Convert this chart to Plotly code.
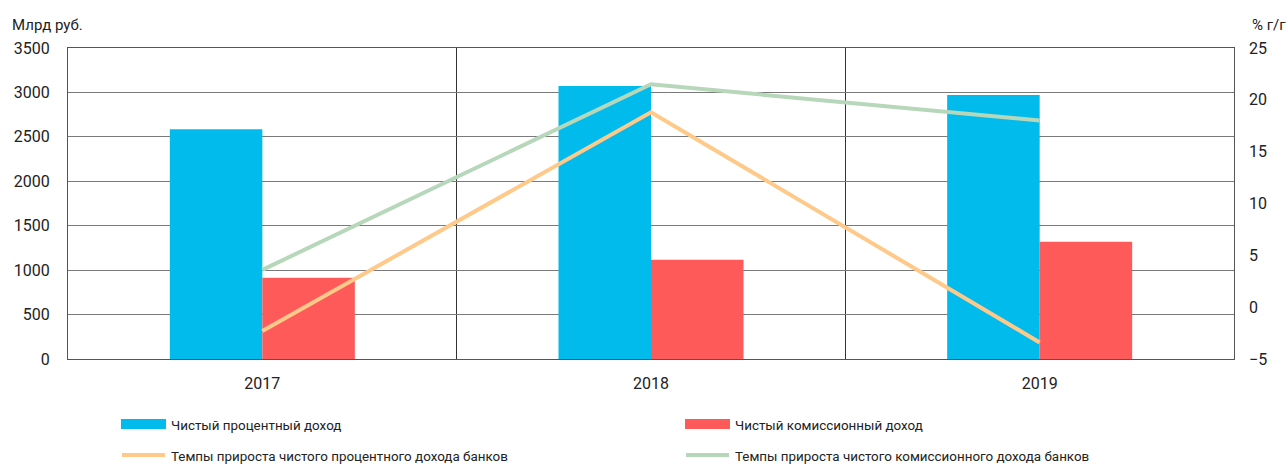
import plotly.graph_objects as go

years = ["2017", "2018", "2019"]
net_interest = [2585, 3072, 2971]
net_commission = [915, 1117, 1320]
interest_growth = [-2.3, 18.8, -3.4]
commission_growth = [3.6, 21.5, 18.0]

name_interest = "Чистый процентный доход"
name_commission = "Чистый комиссионный доход"
name_interest_growth = "Темпы прироста чистого процентного дохода банков"
name_commission_growth = "Темпы прироста чистого комиссионного дохода банков"

c_blue = "#00BBEC"
c_red = "#FF5A5A"
c_orange = "#FFC98A"
c_green = "#B7D7BA"
font_family = "Roboto"
txt = "#222222"
fs_tick = 16
fs_legend = 13.4
fs_title = 15

W, H = 1288, 466
L, R, T, B = 68, 54, 48, 107
PW, PH = W - L - R, H - T - B

fig = go.Figure()
fig.add_bar(x=years, y=net_interest, name=name_interest, marker_color=c_blue,
            marker_line_width=0, showlegend=False)
fig.add_bar(x=years, y=net_commission, name=name_commission, marker_color=c_red,
            marker_line_width=0, showlegend=False)
fig.add_scatter(x=years, y=interest_growth, name=name_interest_growth, yaxis="y2",
                mode="lines", line=dict(color=c_orange, width=4), showlegend=False)
fig.add_scatter(x=years, y=commission_growth, name=name_commission_growth, yaxis="y2",
                mode="lines", line=dict(color=c_green, width=4), showlegend=False)

# legend drawn as shapes + text, two columns
def px_x(px):
    return (px - L) / PW

def px_y(py):
    return (H - B - py) / PH

shapes = []
annotations = []
legend_items = [
    (name_interest, c_blue, "bar", 121, 424),
    (name_commission, c_red, "bar", 685, 424),
    (name_interest_growth, c_orange, "line", 121, 455),
    (name_commission_growth, c_green, "line", 685, 455),
]
for label, color, kind, x0, yc in legend_items:
    if kind == "bar":
        shapes.append(dict(type="rect", xref="paper", yref="paper",
                           x0=px_x(x0), x1=px_x(x0 + 45), y0=px_y(yc - 5), y1=px_y(yc + 5),
                           fillcolor=color, line_width=0))
    else:
        shapes.append(dict(type="line", xref="paper", yref="paper",
                           x0=px_x(x0 + 1), x1=px_x(x0 + 44), y0=px_y(yc), y1=px_y(yc),
                           line=dict(color=color, width=4)))
    annotations.append(dict(text=label, xref="paper", yref="paper",
                            x=px_x(x0 + 48), y=px_y(yc + 1), xanchor="left", yanchor="middle",
                            showarrow=False,
                            font=dict(family=font_family, size=fs_legend, color=txt)))

annotations.append(dict(text="Млрд руб.", xref="paper", yref="paper",
                        x=px_x(10), y=px_y(25), xanchor="left", yanchor="middle",
                        showarrow=False, font=dict(family=font_family, size=fs_title, color=txt)))
annotations.append(dict(text="% г/г", xref="paper", yref="paper",
                        x=px_x(1250), y=px_y(25), xanchor="left", yanchor="middle",
                        showarrow=False, font=dict(family=font_family, size=fs_title, color=txt)))

fig.update_layout(
    width=W, height=H,
    margin=dict(l=L, r=R, t=T, b=B),
    paper_bgcolor="white", plot_bgcolor="white",
    barmode="group", bargap=0.524, bargroupgap=0,
    font=dict(family=font_family, size=fs_tick, color=txt),
    shapes=shapes, annotations=annotations,
    xaxis=dict(type="category", tickson="boundaries", showgrid=True, gridcolor="#333333",
               gridwidth=1, ticks="", showline=True, linecolor="#555555", linewidth=1,
               mirror=True, ticklabelstandoff=10, tickfont=dict(size=fs_tick, color=txt)),
    yaxis=dict(range=[0, 3500], dtick=500, showgrid=True, gridcolor="#7a7a7a", gridwidth=1,
               zeroline=False, showline=True, linecolor="#555555", linewidth=1, mirror=True,
               ticks="", ticklabelstandoff=14, tickfont=dict(size=fs_tick, color=txt)),
    yaxis2=dict(range=[-5, 25], dtick=5, overlaying="y", side="right", showgrid=False,
                zeroline=False, showline=False, ticks="", ticklabelstandoff=14,
                tickfont=dict(size=fs_tick, color=txt)),
)

fig.write_html("out.html")
